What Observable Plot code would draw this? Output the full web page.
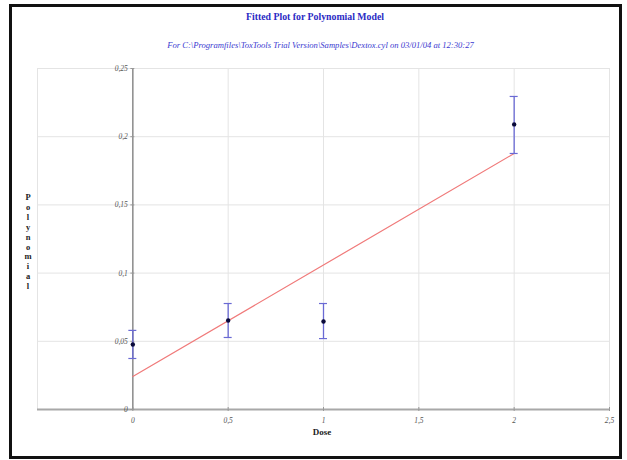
<!DOCTYPE html>
<html>
<head>
<meta charset="utf-8">
<script src="https://cdn.jsdelivr.net/npm/d3@7"></script>
<script src="https://cdn.jsdelivr.net/npm/@observablehq/plot@0.6"></script>
<style>
  html, body { margin: 0; padding: 0; background: #fff; }
  #wrap { position: relative; width: 627px; height: 460px; overflow: hidden; background: #fff; }
  #wrap svg { position: absolute; left: 0; top: 0; }
  .frame { position: absolute; left: 9px; top: 4px; width: 613px; height: 455px; border: 3px solid #111; box-sizing: border-box; pointer-events: none; }
  .title { position: absolute; left: 0; width: 630px; top: 11px; text-align: center; font: bold 9.8px "Liberation Serif", "DejaVu Serif", serif; color: #2b2bc4; }
  .subtitle { position: absolute; left: 0; width: 641px; top: 40px; text-align: center; font: italic 8.6px "Liberation Serif", "DejaVu Serif", serif; color: #3a3ad0; }
  .ylabel { position: absolute; left: 18px; width: 20px; top: 193px; text-align: center; font: bold 8.5px "Liberation Serif", serif; line-height: 9.9px; color: #222; }
  .xlabel { position: absolute; left: 282px; width: 80px; top: 427px; text-align: center; font: bold 9px "Liberation Serif", serif; color: #222; }
</style>
</head>
<body>
<div id="wrap"></div>
<script>
// Data
const doses = [0, 0.5, 1, 2];
const means = [0.0477, 0.0653, 0.0645, 0.209];
const lower = [0.0374, 0.0528, 0.052, 0.1877];
const upper = [0.058, 0.0777, 0.0777, 0.2295];
const fitDose = [0, 2];
const fitValue = [0.0242, 0.1877];
const xTicks = [0, 0.5, 1, 1.5, 2, 2.5];
const yTicks = [0, 0.05, 0.1, 0.15, 0.2, 0.25];
const xGrid = [-0.5, 0.5, 1, 1.5, 2, 2.5];
const xDomain = [-0.5, 2.5];
const yDomain = [0, 0.25];

const title = "Fitted Plot for Polynomial Model";
const subtitle = "For C:\\Programfiles\\ToxTools Trial Version\\Samples\\Dextox.cyl on 03/01/04 at 12:30:27";
const yLabel = "Polynomial";
const xLabel = "Dose";

const points = doses.map((d, i) => ({dose: d, mean: means[i], lo: lower[i], hi: upper[i]}));
const fit = fitDose.map((d, i) => ({dose: d, value: fitValue[i]}));
const fmt = d => String(d).replace(".", ",");
const tickFont = {fontFamily: "Liberation Serif, serif", fontStyle: "italic", fontSize: 7.5, fill: "#555"};

const chart = Plot.plot({
  width: 627,
  height: 460,
  marginLeft: 37,
  marginRight: 18,
  marginTop: 68,
  marginBottom: 51,
  style: {background: "transparent", overflow: "visible"},
  x: {domain: xDomain, axis: null},
  y: {domain: yDomain, axis: null},
  marks: [
    // grid
    Plot.ruleY(yTicks.slice(1), {y: d => d, stroke: "#e4e4e4", strokeWidth: 1}),
    Plot.ruleX(xGrid, {x: d => d, y1: yDomain[0], y2: yDomain[1], stroke: "#e4e4e4", strokeWidth: 1}),
    // axes lines
    Plot.ruleY([0], {stroke: "#a8a8a8", strokeWidth: 2}),
    Plot.ruleX([0], {y1: yDomain[0], y2: yDomain[1], stroke: "#8a8a8a", strokeWidth: 1.5}),
    // tick marks
    Plot.ruleX(xTicks, {x: d => d, y1: 0, y2: 0, insetTop: -2, insetBottom: -2, stroke: "#999"}),
    Plot.ruleY(yTicks, {y: d => d, x1: 0, x2: 0, insetLeft: -2, insetRight: -2, stroke: "#999"}),
    // tick labels
    Plot.text(xTicks, {x: d => d, y: 0, text: fmt, dy: 11, textAnchor: "middle", ...tickFont}),
    Plot.text(yTicks, {x: 0, y: d => d, text: fmt, dx: -5, textAnchor: "end", ...tickFont}),
    // fitted line
    Plot.line(fit, {x: "dose", y: "value", stroke: "#f07a7a", strokeWidth: 1.2}),
    // error bars
    Plot.ruleX(points, {x: "dose", y1: "lo", y2: "hi", stroke: "#6a6ad4", strokeWidth: 1.3}),
    Plot.ruleY(points, {y: "lo", x1: "dose", x2: "dose", insetLeft: -4, insetRight: -4, stroke: "#6a6ad4", strokeWidth: 1.2}),
    Plot.ruleY(points, {y: "hi", x1: "dose", x2: "dose", insetLeft: -4, insetRight: -4, stroke: "#6a6ad4", strokeWidth: 1.2}),
    // means
    Plot.dot(points, {x: "dose", y: "mean", r: 2.2, fill: "#0a0a3a", stroke: "none"})
  ]
});

const wrap = document.getElementById("wrap");
wrap.appendChild(chart);
function addDiv(cls, html) {
  const d = document.createElement("div");
  d.className = cls;
  d.innerHTML = html;
  wrap.appendChild(d);
}
addDiv("title", title);
const sub = document.createElement("div");
sub.className = "subtitle";
sub.textContent = subtitle;
wrap.appendChild(sub);
addDiv("ylabel", yLabel.split("").join("<br>"));
addDiv("xlabel", xLabel);
addDiv("frame", "");
</script>
</body>
</html>
